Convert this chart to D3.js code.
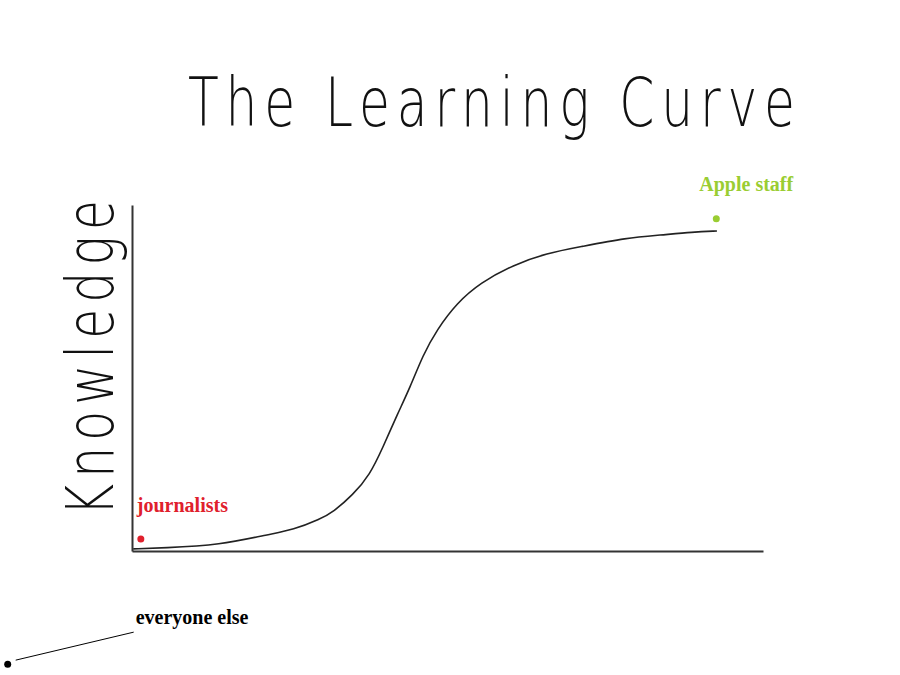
<!DOCTYPE html>
<html>
<head>
<meta charset="utf-8">
<script src="https://cdn.jsdelivr.net/npm/d3@7"></script>
<style>
  body { margin: 0; background: #fff; }
</style>
</head>
<body>
<div id="chart-area"></div>
<script>
// effort (x) vs knowledge (y), both 0..100
var effort    = [0.2, 4.9, 13.9, 21.9, 25.5, 29.8, 31.9, 35.0, 37.7, 39.8, 42.0, 44.1, 46.1, 48.3, 51.5, 55.2, 60.4, 65.8, 71.0, 78.4, 83.7, 88.9, 92.7];
var knowledge = [0.6, 0.9, 1.7, 4.9, 6.1, 9.2, 11.3, 16.2, 22.0, 30.1, 39.3, 47.4, 56.6, 63.9, 71.7, 77.5, 82.7, 86.1, 87.9, 90.5, 91.3, 92.2, 92.5];

var groups     = ["journalists", "Apple staff", "everyone else"];
var groupX     = [1.4, 92.6, -19.7];
var groupY     = [3.5, 96.0, -32.7];
var groupColor = ["#e0202c", "#9acd32", "#000000"];

var title  = "The Learning Curve";
var yTitle = "Knowledge";

var width = 900, height = 675;
var plot = {left: 132, right: 763, top: 205, bottom: 551};

var svg = d3.select("#chart-area")
    .append("svg")
    .attr("width", width)
    .attr("height", height);

var x = d3.scaleLinear().domain([0, 100]).range([plot.left, plot.right]);
var y = d3.scaleLinear().domain([0, 100]).range([plot.bottom, plot.top]);

// axes: plain lines, no ticks
svg.append("g")
    .attr("transform", "translate(0," + plot.bottom + ")")
    .call(d3.axisBottom(x).tickValues([]).tickSizeOuter(0))
    .select(".domain").attr("stroke", "#333").attr("stroke-width", 2);

svg.append("g")
    .attr("transform", "translate(" + plot.left + ",0)")
    .call(d3.axisLeft(y).tickValues([]).tickSizeOuter(0))
    .select(".domain").attr("stroke", "#333").attr("stroke-width", 2);

// title + y label in a thin, narrow face (squeezed horizontally, wide spacing)
var squeeze = 0.74;
svg.append("text")
    .attr("transform", "translate(188,126) scale(" + squeeze + ",1)")
    .attr("font-family", "'DejaVu Sans ExtraLight', 'DejaVu Sans'")
    .attr("font-weight", 200)
    .attr("font-size", "68px")
    .attr("textLength", 607 / squeeze)
    .attr("lengthAdjust", "spacing")
    .style("fill", "#111")
    .text(title);

svg.append("text")
    .attr("transform", "translate(113,516) rotate(-90) scale(" + squeeze + ",1)")
    .attr("font-family", "'DejaVu Sans ExtraLight', 'DejaVu Sans'")
    .attr("font-weight", 200)
    .attr("font-size", "66px")
    .attr("textLength", 316 / squeeze)
    .attr("lengthAdjust", "spacing")
    .style("fill", "#111")
    .text(yTitle);

// the curve
var pts = effort.map(function(d, i){ return [d, knowledge[i]]; });
var line = d3.line()
    .x(function(d){ return x(d[0]); })
    .y(function(d){ return y(d[1]); })
    .curve(d3.curveBasis);

svg.append("path")
    .datum(pts)
    .attr("d", line)
    .attr("fill", "none")
    .attr("stroke", "#222")
    .attr("stroke-width", 1.6);

// group markers
var labelDx = [-4, -17, 0];
var labelDy = [-27, -28, 0];

// leader line for the off-chart group
svg.append("line")
    .attr("x1", x(groupX[2]) + 8)
    .attr("y1", y(groupY[2]) - 4)
    .attr("x2", x(groupX[2]) + 126)
    .attr("y2", y(groupY[2]) - 32)
    .attr("stroke", "#000")
    .attr("stroke-width", 1);

groups.forEach(function(g, i){
    svg.append("circle")
        .attr("cx", x(groupX[i]))
        .attr("cy", y(groupY[i]))
        .attr("r", 3.5)
        .attr("fill", groupColor[i]);

    var tx = x(groupX[i]) + labelDx[i];
    var ty = y(groupY[i]) + labelDy[i];
    if (i == 2) { tx = x(groupX[i]) + 128; ty = y(groupY[i]) - 40; }

    svg.append("text")
        .attr("x", tx)
        .attr("y", ty)
        .attr("font-family", "'Liberation Serif', serif")
        .attr("font-weight", "bold")
        .attr("font-size", "20px")
        .style("fill", groupColor[i])
        .text(g);
});
</script>
</body>
</html>
